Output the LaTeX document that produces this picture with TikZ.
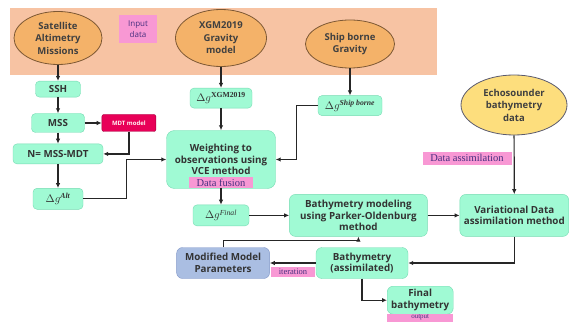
\documentclass[tikz,border=0pt]{standalone}
\usepackage{amsmath,amssymb}
\usepackage{bm}
\usepackage{fontspec}
\setmainfont{Open Sans}
\newfontfamily\labelfont{Liberation Serif}
\usepackage{xcolor}
\usetikzlibrary{arrows.meta, positioning, shapes.geometric, backgrounds}
\definecolor{peach}{RGB}{247,195,163}
\definecolor{ochre}{RGB}{244,178,105}
\definecolor{ochreline}{RGB}{125,88,52}
\definecolor{sand}{RGB}{253,222,125}
\definecolor{sandline}{RGB}{90,90,110}
\definecolor{mint}{RGB}{160,250,212}
\definecolor{mintline}{RGB}{118,218,178}
\definecolor{rosy}{RGB}{248,152,212}
\definecolor{tagtext}{RGB}{72,48,128}
\definecolor{crimson}{RGB}{232,0,88}
\definecolor{steel}{RGB}{170,190,226}
\definecolor{steelline}{RGB}{128,150,200}
\newcommand{\dg}[1]{$\Delta g^{\text{\labelfont\bfseries #1}}$}
\tikzset{
  source/.style={ellipse, draw=ochreline, thick, fill=ochre, align=center, inner sep=0pt, text=black!75, font=\fontsize{9.5}{12.5}\selectfont\bfseries},
  stepbox/.style={draw=mintline, fill=mint, rounded corners=4pt, align=center, inner sep=1pt, text=black!80, font=\fontsize{9.8}{11.5}\selectfont\bfseries},
  gravbox/.style={stepbox, font=\fontsize{11}{12}\selectfont},
  flagbox/.style={fill=crimson, draw=crimson!70!black, rounded corners=2pt, inner sep=1pt, text=white!80!pink, font=\fontsize{6}{8}\selectfont\bfseries},
  tag/.style={fill=rosy, inner sep=0pt, align=center, text=tagtext, font=\labelfont\fontsize{10.5}{12}\selectfont},
  arrow/.style={-{Latex[length=5pt,width=4.5pt]}, line width=1.2pt, black!85},
  every node/.style={font=\small}
}
\begin{document}
\begin{tikzpicture}[x=1pt, y=-1pt, node distance=16pt and 16pt]
    \useasboundingbox (0,0) rectangle (569,323);
    \fill[peach] (10,8) rectangle (437,75);

    \node[source, minimum width=88pt, minimum height=53pt] (sat) at (58,38) {Satellite\\Altimetry\\Missions};
    \node[tag, minimum width=38pt, minimum height=28pt, font=\fontsize{8}{10.5}\selectfont] (inlabel) at (138,29) {Input\\data};
    \node[source, minimum width=91pt, minimum height=57pt] (xgm) at (221,38) {XGM2019\\Gravity\\model};
    \node[source, minimum width=89pt, minimum height=48pt] (ship) at (350,44) {Ship borne\\Gravity};
    \node[source, fill=sand, draw=sandline, minimum width=106pt, minimum height=60pt] (echo) at (514,105) {Echosounder\\bathymetry\\data};

    \node[stepbox, minimum width=45pt, minimum height=16pt, below=16pt of sat] (ssh) {SSH};
    \node[stepbox, minimum width=53pt, minimum height=19pt, below=16pt of ssh] (mss) {MSS};
    \node[flagbox, minimum width=54pt, minimum height=17pt, right=17pt of mss] (mdt) {MDT model};
    \node[stepbox, minimum width=90pt, minimum height=20pt, below=11pt of mss] (geoid) {N= MSS-MDT};
    \node[gravbox, minimum width=50pt, minimum height=21pt, below=24pt of geoid] (dgalt) {\dg{\itshape Alt}};

    \node[gravbox, minimum width=62pt, minimum height=20pt, below=21pt of xgm] (dgxgm) {\dg{XGM2019}};
    \node[gravbox, minimum width=64pt, minimum height=20pt, below=27pt of ship] (dgship) {\dg{\itshape Ship borne}};
    \node[stepbox, rounded corners=8pt, minimum width=109pt, minimum height=58pt, below=22pt of dgxgm] (vce) {Weighting to\\observations using\\VCE method};
    \node[tag, minimum width=64pt, minimum height=11pt, anchor=south] (fusion) at ([yshift=0.5pt]vce.south) {Data fusion};
    \node[gravbox, minimum width=56pt, minimum height=21pt, below=16pt of vce] (dgfinal) {$\Delta g^{\text{\labelfont\itshape Final}}$};

    \node[stepbox, rounded corners=6pt, minimum width=138pt, minimum height=42pt, right=40pt of dgfinal] (pomodel) {Bathymetry modeling\\using Parker-Oldenburg\\method};
    \node[stepbox, rounded corners=6pt, minimum width=109pt, minimum height=42pt, right=32pt of pomodel] (vda) {Variational Data\\assimilation method};
    \node[tag, minimum width=89pt, minimum height=13pt] (assimlabel) at (467,158) {Data assimilation};

    \node[stepbox, rounded corners=6pt, minimum width=92pt, minimum height=31pt] (bathy) at (362,263) {Bathymetry\\(assimilated)};
    \node[stepbox, rounded corners=6pt, fill=steel, draw=steelline, minimum width=93pt, minimum height=31pt, left=46pt of bathy] (modpar) {Modified Model\\Parameters};
    \node[tag, minimum width=44pt, minimum height=10pt, font=\labelfont\fontsize{8.5}{10}\selectfont] (iterlabel) at (293,272) {iteration};
    \node[stepbox, rounded corners=6pt, minimum width=66pt, minimum height=28pt, anchor=north west] (final) at (387,286) {Final\\bathymetry};
    \node[tag, minimum width=66pt, minimum height=8pt, anchor=north, font=\labelfont\fontsize{7}{8}\selectfont] (outlabel) at ([yshift=1pt]final.south) {output};

    \draw[arrow] (sat) -- (ssh);
    \draw[arrow] (ssh) -- (mss);
    \draw[arrow] (mss) -- (mdt);
    \draw[arrow] (mss) -- (geoid);
    \draw[arrow] (mdt.south) |- (geoid.east);
    \draw[arrow] (geoid) -- (dgalt);
    \draw[arrow] (dgalt.east) -- ++(43,0) |- (vce.west);
    \draw[arrow] (xgm) -- (dgxgm);
    \draw[arrow] (dgxgm) -- (vce);
    \draw[arrow] (ship) -- (dgship);
    \draw[arrow] (dgship.west) -- ++(-21,0) |- (vce.east);
    \draw[arrow] (fusion) -- (dgfinal);
    \draw[arrow] (dgfinal) -- (pomodel);
    \draw[arrow] (pomodel) -- (vda);
    \draw[arrow] (echo) -- (vda);
    \draw[arrow] (vda.south) |- (bathy.east);
    \draw[arrow] (bathy) -- (modpar);
    \draw[arrow] (modpar.north) -- ++(0,-7) -| (pomodel.south);
    \draw[arrow] (bathy.south) |- (final.west);
\end{tikzpicture}
\end{document}
